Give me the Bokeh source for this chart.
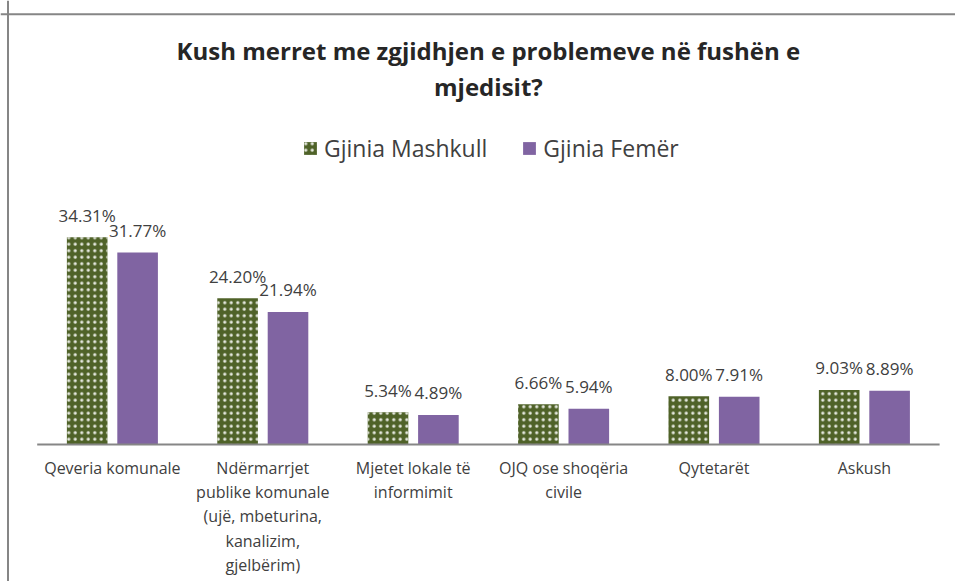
from bokeh.plotting import figure
from bokeh.models import ColumnDataSource, Legend, LegendItem, Label, Range1d, Span
from bokeh.embed import file_html
from bokeh.resources import INLINE
from bokeh.core.properties import value

# ---- data ----
categories = [
    "Qeveria komunale",
    "Ndërmarrjet\npublike komunale\n(ujë, mbeturina,\nkanalizim,\ngjelbërim)",
    "Mjetet lokale të\ninformimit",
    "OJQ ose shoqëria\ncivile",
    "Qytetarët",
    "Askush",
]
mashkull = [34.31, 24.20, 5.34, 6.66, 8.00, 9.03]
femer = [31.77, 21.94, 4.89, 5.94, 7.91, 8.89]
series_names = ["Gjinia Mashkull", "Gjinia Femër"]
title_line1 = "Kush merret me zgjidhjen e problemeve në fushën e"
title_line2 = "mjedisit?"

FONT = "Open Sans"
GREEN = "#4F6228"
PURPLE = "#8064A2"
TEXT = "#404040"
GRAY = "#868686"

n = len(categories)
xc = [i + 0.5 for i in range(n)]
OFF = 0.1676
BW = 0.27

src = ColumnDataSource(dict(
    cat=categories,
    xm=[x - OFF for x in xc],
    xf=[x + OFF for x in xc],
    xc=xc,
    zero=[0] * n,
    m=mashkull,
    f=femer,
    m_lbl=[f"{v:.2f}%" for v in mashkull],
    f_lbl=[f"{v:.2f}%" for v in femer],
))

W, H = 955, 581
p = figure(
    x_range=Range1d(-0.2440, 6.1057),
    y_range=Range1d(-22.68, 73.51),
    width=W, height=H,
    output_backend="svg",
    toolbar_location=None,
    x_axis_location=None, y_axis_location=None,
    min_border_left=0, min_border_right=0,
    min_border_top=0, min_border_bottom=0,
)
p.xgrid.grid_line_color = None
p.ygrid.grid_line_color = None
p.outline_line_color = None
p.background_fill_color = "white"

# chart border (top and left)
p.add_layout(Span(location=71.23, dimension="width", line_color=GRAY, line_width=2))
p.add_layout(Span(location=-0.1941, dimension="height", line_color=GRAY, line_width=2))

r_m = p.vbar(x="xm", top="m", width=BW, source=src,
             fill_color=GREEN, line_color=None, hatch_pattern="dot",
             hatch_color="white", hatch_alpha=0.85, hatch_scale=6.5, hatch_weight=1)
r_f = p.vbar(x="xf", top="f", width=BW, source=src,
             fill_color=PURPLE, line_color=None)

# category axis line
p.segment(x0=0, x1=n, y0=0, y1=0, line_color=GRAY, line_width=2)

# data labels
p.text(x="xm", y="m", text="m_lbl", source=src,
       text_align="center", text_baseline="middle", y_offset=-22,
       text_font=value(FONT), text_font_size="17px", text_color=TEXT)
p.text(x="xf", y="f", text="f_lbl", source=src,
       text_align="center", text_baseline="middle", y_offset=-22,
       text_font=value(FONT), text_font_size="17px", text_color=TEXT)

# category labels
p.text(x="xc", y="zero", text="cat", source=src,
       text_align="center", text_baseline="top", y_offset=12,
       text_font=value(FONT), text_font_size="16px", text_color=TEXT,
       text_line_height=1.11)

# title
for txt, yy in ((title_line1, 65.20), (title_line2, 59.20)):
    p.add_layout(Label(x=3.0, y=yy, text=txt, text_align="center", text_baseline="middle",
                       text_font=FONT, text_font_size="24px", text_font_style="bold",
                       text_color="#262626"))

legend = Legend(
    items=[LegendItem(label=series_names[0], renderers=[r_m]),
           LegendItem(label=series_names[1], renderers=[r_f])],
    orientation="horizontal", location=(302, 417),
    label_text_font=FONT, label_text_font_size="23px", label_text_color=TEXT,
    glyph_width=16, glyph_height=16, label_standoff=6, spacing=34,
    padding=0, margin=0, border_line_color=None, background_fill_color=None,
)
p.add_layout(legend, "center")

open("out.html", "w").write(file_html(p, INLINE))
